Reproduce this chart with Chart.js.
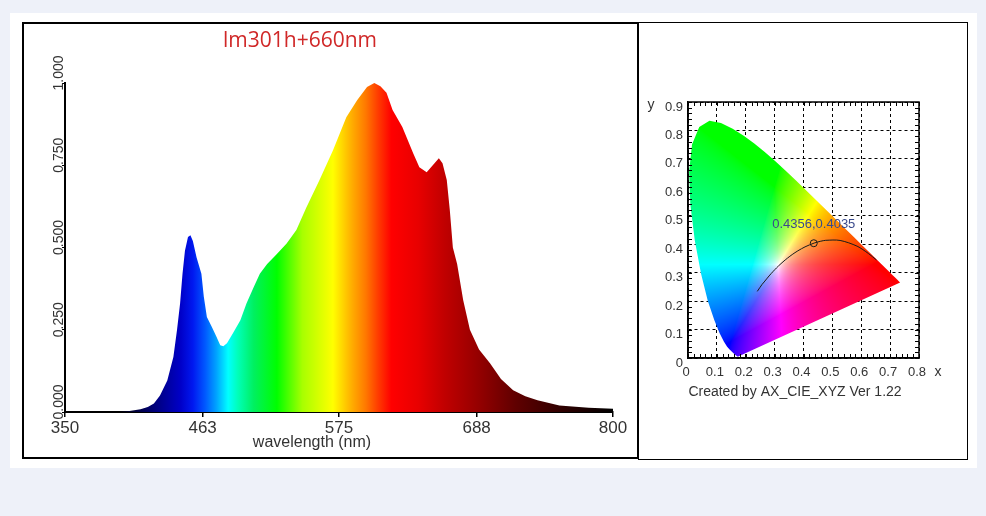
<!DOCTYPE html>
<html>
<head>
<meta charset="utf-8">
<script src="https://cdn.jsdelivr.net/npm/chart.js@4.4.0/dist/chart.umd.min.js"></script>
<style>
    html, body { margin: 0; padding: 0; }
    body { width: 986px; height: 516px; background: #eef1f9; position: relative; overflow: hidden; }
    #sheet { position: absolute; left: 10px; top: 13px; width: 967px; height: 455px; background: #fff; }
    #leftBox { position: absolute; left: 22px; top: 22px; width: 617px; height: 437px; border: 2px solid #000; box-sizing: border-box; }
    #rightBox { position: absolute; left: 638px; top: 22px; width: 330px; height: 438px; border: 1px solid #000; box-sizing: border-box; }
    canvas { position: absolute; }
    #spectrum { left: 0; top: 0; }
    #cie { left: 640px; top: 0; }
</style>
</head>
<body>
<div id="sheet"></div>
<div id="leftBox"></div>
<div id="rightBox"></div>
<canvas id="spectrum" width="640" height="470"></canvas>
<canvas id="cie" width="346" height="470"></canvas>
<script>
// ---- spectrum (left panel) ----
const spectrumTitle = 'lm301h+660nm';
const wavelengths = [350, 395, 403, 412, 418, 423, 428, 434, 439, 442, 444.5, 446.5, 448.5, 451, 453, 455, 458, 462, 464,
    466.5, 470.5, 474, 477.5, 480, 483, 488, 494, 499, 505, 510, 516, 524, 532, 540, 548, 559, 570, 581, 590, 598, 604,
    609, 614, 619, 627, 636, 641, 647, 652, 657, 660, 663.5, 666, 668.5, 672, 677, 682.5, 690, 699, 708, 718, 728, 738,
    756, 780, 800];
const intensity = [0, 0, 0.003, 0.008, 0.015, 0.026, 0.05, 0.096, 0.167, 0.25, 0.33, 0.42, 0.49, 0.532, 0.537, 0.52, 0.47,
    0.42, 0.35, 0.289, 0.259, 0.232, 0.203, 0.2, 0.209, 0.24, 0.279, 0.33, 0.38, 0.42, 0.45, 0.48, 0.512, 0.553, 0.62,
    0.705, 0.795, 0.896, 0.948, 0.988, 1.0, 0.99, 0.97, 0.918, 0.866, 0.786, 0.744, 0.729, 0.75, 0.771, 0.756, 0.705,
    0.613, 0.5, 0.45, 0.34, 0.25, 0.19, 0.148, 0.1, 0.066, 0.048, 0.036, 0.02, 0.013, 0.01];
const xTickValues = [350, 463, 575, 688, 800];
const yTickValues = [0, 0.25, 0.5, 0.75, 1];
const yTickLabels = ['0.000', '0.250', '0.500', '0.750', '1.000'];

// ---- CIE 1931 diagram (right panel) ----
const locusX = [0.1741, 0.1733, 0.1727, 0.1714, 0.1689, 0.1644, 0.1566, 0.1440, 0.1355, 0.1241, 0.1096, 0.0913, 0.0687,
    0.0454, 0.0235, 0.0082, 0.0039, 0.0139, 0.0389, 0.0743, 0.1142, 0.1547, 0.1929, 0.2296, 0.2658, 0.3016, 0.3373,
    0.3731, 0.4087, 0.4441, 0.4788, 0.5125, 0.5448, 0.5752, 0.6029, 0.6270, 0.6658, 0.6915, 0.7079, 0.7190, 0.7260,
    0.7300, 0.7334, 0.7347];
const locusY = [0.0050, 0.0048, 0.0048, 0.0051, 0.0069, 0.0109, 0.0177, 0.0297, 0.0399, 0.0578, 0.0868, 0.1327, 0.2007,
    0.2950, 0.4127, 0.5384, 0.6548, 0.7502, 0.8120, 0.8338, 0.8262, 0.8059, 0.7816, 0.7543, 0.7243, 0.6923, 0.6589,
    0.6245, 0.5896, 0.5547, 0.5202, 0.4866, 0.4544, 0.4242, 0.3965, 0.3725, 0.3340, 0.3083, 0.2920, 0.2809, 0.2740,
    0.2700, 0.2666, 0.2653];
const planckX = [0.2399, 0.2568, 0.2637, 0.2807, 0.2952, 0.3064, 0.3135, 0.3221, 0.3325, 0.3451, 0.3608, 0.3805, 0.4053,
    0.4369, 0.4599, 0.4770, 0.5267, 0.5856, 0.6249, 0.6527];
const planckY = [0.2342, 0.2591, 0.2673, 0.2884, 0.3048, 0.3166, 0.3237, 0.3318, 0.3411, 0.3516, 0.3636, 0.3768, 0.3907,
    0.4041, 0.4106, 0.4137, 0.4133, 0.3932, 0.3672, 0.3445];
const sampleX = [0.4356];
const sampleY = [0.4035];
const cieXTicks = [0, 0.1, 0.2, 0.3, 0.4, 0.5, 0.6, 0.7, 0.8];
const cieYTicks = [0, 0.1, 0.2, 0.3, 0.4, 0.5, 0.6, 0.7, 0.8, 0.9];
const cieFooter = 'Created by AX_CIE_XYZ Ver 1.22';

const FONT = '"Liberation Sans", Arial, sans-serif';
Chart.defaults.font.family = FONT;

// colour of the spectrum fill along the wavelength axis
const rainbowStops = [
    [350, '#000000'], [405, '#000030'], [425, '#000080'], [445, '#0000c8'], [455, '#0018f0'], [465, '#0058ff'],
    [474, '#00a0ff'], [484, '#00ffff'], [492, '#00ffb8'], [505, '#00f060'], [524, '#00ff00'], [545, '#a8ff00'],
    [570, '#ffff00'], [585, '#ffb000'], [597, '#ff7800'], [607, '#ff3c00'], [618, '#ff0000'], [640, '#e80000'],
    [662, '#c00000'], [690, '#940000'], [720, '#600000'], [760, '#2c0000'], [800, '#000000']
];

function spectrumFill(context) {
    const chart = context.chart;
    if (!chart.chartArea) return 'rgba(0,0,0,0)';
    const xs = chart.scales.x;
    const x0 = xs.getPixelForValue(350), x1 = xs.getPixelForValue(800);
    const g = chart.ctx.createLinearGradient(x0, 0, x1, 0);
    rainbowStops.forEach(([nm, c]) => g.addColorStop((xs.getPixelForValue(nm) - x0) / (x1 - x0), c));
    return g;
}

const spectrumText = {
    id: 'spectrumText',
    afterDraw(chart) {
        const { ctx, scales: { x, y } } = chart;
        ctx.save();
        ctx.textAlign = 'center';
        ctx.textBaseline = 'middle';
        ctx.fillStyle = '#d02828';
        ctx.font = '21px "Open Sans", "Noto Sans", sans-serif';
        ctx.fillText(spectrumTitle, 300, 41);

        ctx.fillStyle = '#333';
        ctx.font = '16px ' + FONT;
        ctx.fillText('wavelength (nm)', 312, 443);

        // rotated y tick labels
        ctx.font = '14px ' + FONT;
        ctx.textBaseline = 'alphabetic';
        yTickValues.forEach((v, i) => {
            ctx.save();
            ctx.translate(x.left - 2, y.getPixelForValue(v) - 10);
            ctx.rotate(-Math.PI / 2);
            ctx.fillText(yTickLabels[i], 0, 0);
            ctx.restore();
        });
        ctx.restore();
    }
};

new Chart(document.getElementById('spectrum'), {
    type: 'line',
    data: {
        datasets: [{
            data: wavelengths.map((w, i) => ({ x: w, y: intensity[i] })),
            fill: 'origin',
            backgroundColor: spectrumFill,
            borderWidth: 0,
            pointRadius: 0,
            tension: 0
        }]
    },
    options: {
        responsive: false,
        animation: false,
        layout: { padding: { left: 20, right: 27, top: 83, bottom: 0 } },
        plugins: { legend: { display: false }, tooltip: { enabled: false } },
        scales: {
            x: {
                type: 'linear', min: 350, max: 800,
                afterBuildTicks: s => { s.ticks = xTickValues.map(v => ({ value: v })); },
                afterFit: s => { s.height = 58; },
                grid: { drawOnChartArea: false, drawTicks: true, tickLength: 5, color: '#000', lineWidth: 1.5 },
                border: { color: '#000', width: 2 },
                ticks: { color: '#333', font: { size: 17 }, padding: 1, maxRotation: 0, autoSkip: false }
            },
            y: {
                min: 0, max: 1,
                afterBuildTicks: s => { s.ticks = yTickValues.map(v => ({ value: v })); },
                afterFit: s => { s.width = 45; },
                grid: { drawOnChartArea: false, drawTicks: true, tickLength: 3, color: '#000' },
                border: { color: '#000', width: 2 },
                ticks: { display: false }
            }
        }
    },
    plugins: [spectrumText]
});

// xy chromaticity -> display colour (saturated, small white centre)
function chromaColour(cx, cy) {
    const X = cx / cy, Y = 1, Z = (1 - cx - cy) / cy;
    let r = 3.2406 * X - 1.5372 * Y - 0.4986 * Z;
    let g = -0.9689 * X + 1.8758 * Y + 0.0415 * Z;
    let b = 0.0557 * X - 0.2040 * Y + 1.0570 * Z;
    r = Math.max(r, 0); g = Math.max(g, 0); b = Math.max(b, 0);
    const m = Math.max(r, g, b) || 1;
    r /= m; g /= m; b /= m;
    const k = 0.45 * Math.min(r, g, b);
    const enc = c => 255 * Math.pow((c - k) / (1 - k), 1 / 1.5);
    return [enc(r), enc(g), enc(b)];
}

const horseshoe = {
    id: 'horseshoe',
    beforeDatasetsDraw(chart) {
        const { ctx, chartArea: a, scales: { x, y } } = chart;
        const pts = chart.getDatasetMeta(0).data;
        const w = Math.round(a.right - a.left), h = Math.round(a.bottom - a.top);
        const off = document.createElement('canvas');
        off.width = w; off.height = h;
        const octx = off.getContext('2d');
        const img = octx.createImageData(w, h);
        for (let j = 0; j < h; j++) {
            const cy = y.getValueForPixel(a.top + j + 0.5);
            if (cy <= 0.001) continue;
            for (let i = 0; i < w; i++) {
                const cx = x.getValueForPixel(a.left + i + 0.5);
                const [r, g, b] = chromaColour(cx, cy);
                const k = (j * w + i) * 4;
                img.data[k] = r; img.data[k + 1] = g; img.data[k + 2] = b; img.data[k + 3] = 255;
            }
        }
        octx.putImageData(img, 0, 0);
        ctx.save();
        ctx.beginPath();
        pts.forEach((p, k) => k ? ctx.lineTo(p.x, p.y) : ctx.moveTo(p.x, p.y));
        ctx.closePath();
        ctx.clip();
        ctx.drawImage(off, a.left, a.top);
        ctx.restore();
    },
    afterDraw(chart) {
        const { ctx, chartArea: a, scales: { x, y } } = chart;
        ctx.save();
        // frame + inner minor ticks
        ctx.strokeStyle = '#000';
        ctx.lineWidth = 1.5;
        ctx.strokeRect(a.left, a.top, a.right - a.left, a.bottom - a.top);
        ctx.lineWidth = 1;
        ctx.beginPath();
        for (let v = 0; v <= 0.8001; v += 0.02) {
            const px = Math.round(x.getPixelForValue(v)) + 0.5;
            ctx.moveTo(px, a.top); ctx.lineTo(px, a.top + 4);
            ctx.moveTo(px, a.bottom); ctx.lineTo(px, a.bottom - 4);
        }
        for (let v = 0; v <= 0.9001; v += 0.02) {
            const py = Math.round(y.getPixelForValue(v)) + 0.5;
            ctx.moveTo(a.left, py); ctx.lineTo(a.left + 4, py);
            ctx.moveTo(a.right, py); ctx.lineTo(a.right - 4, py);
        }
        ctx.stroke();

        ctx.fillStyle = '#333';
        ctx.font = '14px ' + FONT;
        ctx.textAlign = 'center';
        ctx.textBaseline = 'middle';
        ctx.fillText('y', 11, 105);
        ctx.fillText('x', 298, 372);
        ctx.fillText(cieFooter, 155, 392);

        const p = chart.getDatasetMeta(2).data[0];
        ctx.fillStyle = '#3a4a8c';
        ctx.font = '13px ' + FONT;
        ctx.fillText(sampleX[0].toFixed(4) + ',' + sampleY[0].toFixed(4), p.x, p.y - 19);
        ctx.restore();
    }
};

new Chart(document.getElementById('cie'), {
    type: 'scatter',
    data: {
        datasets: [
            {
                data: locusX.map((v, i) => ({ x: v, y: locusY[i] })),
                showLine: false, pointRadius: 0
            },
            {
                data: planckX.map((v, i) => ({ x: v, y: planckY[i] })),
                showLine: true, borderColor: '#1a1a1a', borderWidth: 1, pointRadius: 0, tension: 0.3
            },
            {
                data: sampleX.map((v, i) => ({ x: v, y: sampleY[i] })),
                pointRadius: 3.5, pointBorderColor: '#1a1a1a', pointBorderWidth: 1,
                pointBackgroundColor: 'rgba(0,0,0,0)'
            }
        ]
    },
    options: {
        responsive: false,
        animation: false,
        layout: { padding: { left: 0, right: 67, top: 102, bottom: 0 } },
        plugins: { legend: { display: false }, tooltip: { enabled: false } },
        scales: {
            x: {
                type: 'linear', min: 0, max: 0.8,
                afterBuildTicks: s => { s.ticks = cieXTicks.map(v => ({ value: v })); },
                afterFit: s => { s.height = 112; },
                grid: { color: '#000', lineWidth: 1, drawTicks: false },
                border: { color: '#000', width: 1.5, dash: [3, 3] },
                ticks: { color: '#333', font: { size: 13 }, padding: 7, labelOffset: -2, maxRotation: 0, autoSkip: false }
            },
            y: {
                type: 'linear', min: 0, max: 0.9,
                afterBuildTicks: s => { s.ticks = cieYTicks.map(v => ({ value: v })); },
                afterFit: s => { s.width = 48; },
                grid: { color: '#000', lineWidth: 1, drawTicks: false },
                border: { color: '#000', width: 1.5, dash: [3, 3] },
                ticks: { color: '#333', font: { size: 13 }, padding: 5, labelOffset: 5, autoSkip: false }
            }
        }
    },
    plugins: [horseshoe]
});
</script>
</body>
</html>
